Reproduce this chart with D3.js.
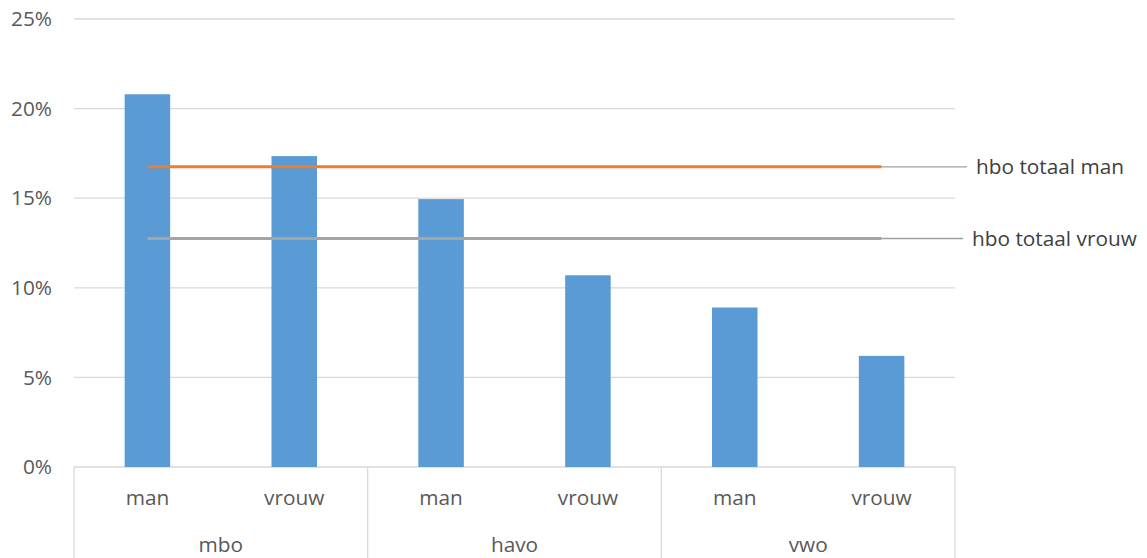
<!DOCTYPE html>
<html>
<head>
<meta charset="utf-8">
<script src="https://cdn.jsdelivr.net/npm/d3@7"></script>
<style>
  html, body { margin: 0; padding: 0; background: #fff; }
  svg text { font-family: "Open Sans", "Noto Sans", sans-serif; fill: #595959; }
</style>
</head>
<body>
<svg id="chart" width="1147" height="558"></svg>
<script>
const groups = ["mbo", "havo", "vwo"];
const subcats = ["man", "vrouw"];
const values = [20.8, 17.35, 14.95, 10.7, 8.9, 6.2];
const yTicks = [0, 5, 10, 15, 20, 25];
const hboLabels = ["hbo totaal man", "hbo totaal vrouw"];
const hboValues = [16.75, 12.75];
const hboColors = ["#ed7d31", "#a5a5a5"];

const svg = d3.select("#chart");
const plotLeft = 74, plotRight = 955, plotTop = 19, plotBottom = 467;
const fs = 20.8;

const cats = [];
groups.forEach(g => subcats.forEach(s => cats.push(g + "|" + s)));

const x = d3.scaleBand().domain(cats).range([plotLeft, plotRight]).padding(0);
const y = d3.scaleLinear().domain([0, 25]).range([plotBottom, plotTop]);
const barW = x.bandwidth() * 0.31;

// gridlines
svg.append("g").selectAll("line").data(yTicks).join("line")
  .attr("x1", plotLeft).attr("x2", plotRight)
  .attr("y1", d => y(d)).attr("y2", d => y(d))
  .attr("stroke", "#d9d9d9").attr("stroke-width", 1.3);

// y labels
svg.append("g").selectAll("text").data(yTicks).join("text")
  .attr("x", 52).attr("y", d => y(d)).attr("dy", "0.35em")
  .attr("text-anchor", "end").attr("font-size", fs)
  .text(d => d + "%");

// bars
svg.append("g").selectAll("rect").data(values).join("rect")
  .attr("x", (d, i) => x(cats[i]) + x.bandwidth() / 2 - barW / 2)
  .attr("width", barW)
  .attr("y", d => y(d))
  .attr("height", d => y(0) - y(d))
  .attr("fill", "#5b9bd5");

// category axis boxes
const groupW = x.bandwidth() * subcats.length;
const gAxis = svg.append("g");
groups.forEach((g, gi) => {
  const gx = x(g + "|" + subcats[0]);
  gAxis.append("line").attr("x1", gx).attr("x2", gx).attr("y1", plotBottom).attr("y2", 558)
    .attr("stroke", "#d9d9d9").attr("stroke-width", 1.3);
  gAxis.append("text").attr("x", gx + groupW / 2).attr("y", 552)
    .attr("text-anchor", "middle").attr("font-size", fs).text(g);
});
gAxis.append("line").attr("x1", plotRight).attr("x2", plotRight).attr("y1", plotBottom).attr("y2", 558)
  .attr("stroke", "#d9d9d9").attr("stroke-width", 1.3);

svg.append("g").selectAll("text").data(cats).join("text")
  .attr("x", d => x(d) + x.bandwidth() / 2).attr("y", 505)
  .attr("text-anchor", "middle").attr("font-size", fs)
  .text(d => d.split("|")[1]);

// hbo reference lines
const xStart = x(cats[0]) + x.bandwidth() / 2;
const xEnd = x(cats[cats.length - 1]) + x.bandwidth() / 2;
const labelX = [976, 972];
hboValues.forEach((v, i) => {
  svg.append("line").attr("x1", xStart).attr("x2", xEnd)
    .attr("y1", y(v)).attr("y2", y(v))
    .attr("stroke", hboColors[i]).attr("stroke-width", 3);
  svg.append("line").attr("x1", xEnd).attr("x2", labelX[i] - 9)
    .attr("y1", y(v)).attr("y2", y(v))
    .attr("stroke", "#a0a0a0").attr("stroke-width", 1.3);
  svg.append("text").attr("x", labelX[i]).attr("y", y(v)).attr("dy", "0.35em")
    .attr("font-size", fs).style("fill", "#404040")
    .text(hboLabels[i]);
});
</script>
</body>
</html>
